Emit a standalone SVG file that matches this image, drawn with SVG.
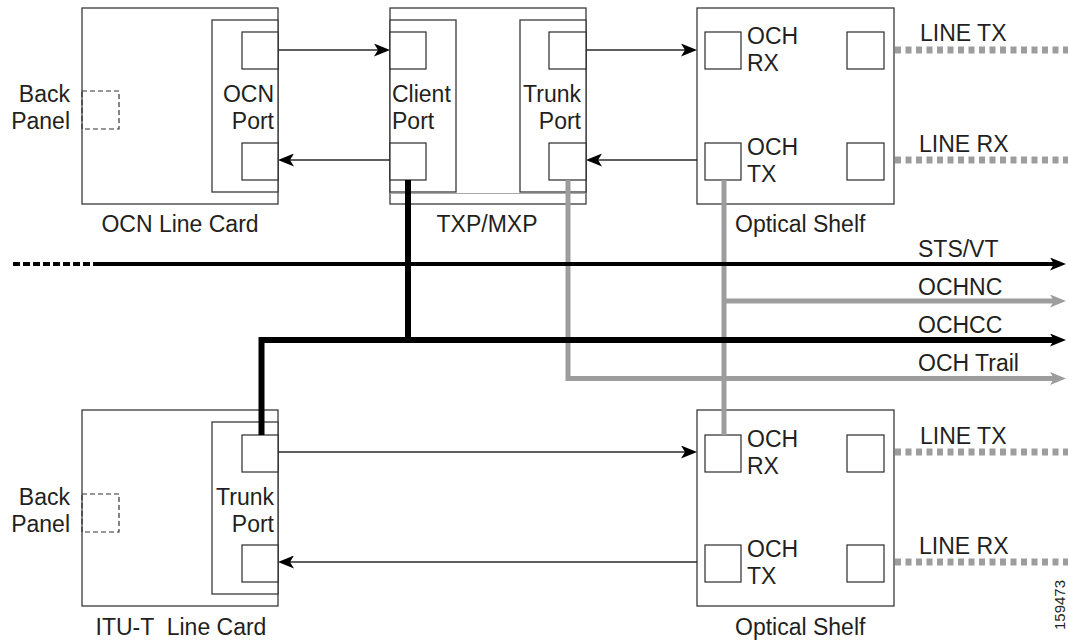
<svg xmlns="http://www.w3.org/2000/svg" width="1068" height="640" viewBox="0 0 1068 640">
<style>
.box{fill:#fff;stroke:#3a3a3a;stroke-width:1.3}
.port{fill:#fff;stroke:#2a2a2a;stroke-width:1.2}
.bp{fill:none;stroke:#333;stroke-width:1.2;stroke-dasharray:5 3}
.t{font-family:"Liberation Sans",Arial,sans-serif;font-size:23px;fill:#231f20}
.s{font-family:"Liberation Sans",Arial,sans-serif;font-size:15px;fill:#231f20}
.thin{stroke:#2a2a2a;stroke-width:1.3;fill:none}
.gray{stroke:#9d9d9d;stroke-width:5;fill:none}
.blk{stroke:#000;stroke-width:6;fill:none;stroke-linejoin:miter}
.blk4{stroke:#000;stroke-width:4;fill:none}
.fiber{stroke:#9d9d9d;stroke-width:7;stroke-dasharray:6 4.5;fill:none}
</style>
<defs>
<marker id="ah" markerUnits="userSpaceOnUse" markerWidth="16" markerHeight="13" refX="4" refY="6.5" orient="auto" viewBox="0 0 16 13"><path d="M0,0 L16,6.5 L0,13 L4,6.5 Z" fill="#000"/></marker>
<marker id="ahg" markerUnits="userSpaceOnUse" markerWidth="16" markerHeight="13" refX="4" refY="6.5" orient="auto" viewBox="0 0 16 13"><path d="M0,0 L16,6.5 L0,13 L4,6.5 Z" fill="#9d9d9d"/></marker>
</defs>

<g id="ocn-line-card">
<rect class="box" x="82" y="8" width="196" height="196"/>
<rect class="box" x="212" y="20" width="66" height="172"/>
<rect class="port" x="242" y="32" width="36" height="37"/>
<rect class="port" x="242" y="143" width="36" height="37"/>
<rect class="bp" x="82" y="91" width="37" height="38"/>
<text class="t" x="70" y="102" text-anchor="end">Back</text>
<text class="t" x="70" y="129" text-anchor="end">Panel</text>
<text class="t" x="274" y="102" text-anchor="end">OCN</text>
<text class="t" x="274" y="129" text-anchor="end">Port</text>
<text class="t" x="180" y="232" text-anchor="middle">OCN Line Card</text>
</g>

<g id="txp-mxp">
<rect class="box" x="390" y="8" width="196" height="196"/>
<line x1="390" y1="193.5" x2="586" y2="193.5" stroke="#aaa" stroke-width="1"/>
<rect class="box" x="390" y="20" width="66" height="172"/>
<rect class="box" x="520" y="20" width="66" height="172"/>
<rect class="port" x="390" y="32" width="36" height="37"/>
<rect class="port" x="390" y="143" width="36" height="37"/>
<rect class="port" x="549" y="32" width="37" height="37"/>
<rect class="port" x="549" y="143" width="37" height="37"/>
<text class="t" x="392" y="102">Client</text>
<text class="t" x="392" y="129">Port</text>
<text class="t" x="581" y="102" text-anchor="end">Trunk</text>
<text class="t" x="581" y="129" text-anchor="end">Port</text>
<text class="t" x="487" y="232" text-anchor="middle">TXP/MXP</text>
</g>

<g id="optical-shelf-top">
<rect class="box" x="697" y="8" width="197" height="196"/>
<rect class="port" x="705" y="32" width="36" height="37"/>
<rect class="port" x="847" y="32" width="37" height="37"/>
<rect class="port" x="705" y="143" width="36" height="37"/>
<rect class="port" x="847" y="143" width="37" height="37"/>
<text class="t" x="747" y="44">OCH</text>
<text class="t" x="747" y="71">RX</text>
<text class="t" x="747" y="155">OCH</text>
<text class="t" x="747" y="182">TX</text>
<text class="t" x="735" y="232">Optical Shelf</text>
</g>

<g id="itu-t-line-card">
<rect class="box" x="82" y="410" width="196" height="196"/>
<rect class="box" x="212" y="422" width="66" height="172"/>
<rect class="port" x="242" y="435" width="36" height="37"/>
<rect class="port" x="242" y="545" width="36" height="37"/>
<rect class="bp" x="82" y="494" width="37" height="38"/>
<text class="t" x="70" y="505" text-anchor="end">Back</text>
<text class="t" x="70" y="532" text-anchor="end">Panel</text>
<text class="t" x="274" y="505" text-anchor="end">Trunk</text>
<text class="t" x="274" y="532" text-anchor="end">Port</text>
<text class="t" x="181" y="635" text-anchor="middle" style="white-space:pre">ITU-T  Line Card</text>
</g>

<g id="optical-shelf-bottom">
<rect class="box" x="697" y="410" width="197" height="196"/>
<rect class="port" x="705" y="435" width="36" height="37"/>
<rect class="port" x="847" y="435" width="37" height="37"/>
<rect class="port" x="705" y="545" width="36" height="37"/>
<rect class="port" x="847" y="545" width="37" height="37"/>
<text class="t" x="747" y="447">OCH</text>
<text class="t" x="747" y="474">RX</text>
<text class="t" x="747" y="557">OCH</text>
<text class="t" x="747" y="584">TX</text>
<text class="t" x="735" y="635">Optical Shelf</text>
</g>

<g id="connectors">
<line class="thin" x1="278" y1="50" x2="378" y2="50" marker-end="url(#ah)"/>
<line class="thin" x1="390" y1="160" x2="290" y2="160" marker-end="url(#ah)"/>
<line class="thin" x1="586" y1="50" x2="685" y2="50" marker-end="url(#ah)"/>
<line class="thin" x1="697" y1="160" x2="598" y2="160" marker-end="url(#ah)"/>
<line class="thin" x1="278" y1="452" x2="685" y2="452" marker-end="url(#ah)"/>
<line class="thin" x1="697" y1="562" x2="290" y2="562" marker-end="url(#ah)"/>

<line class="fiber" x1="895" y1="50" x2="1068" y2="50"/>
<line class="fiber" x1="895" y1="160" x2="1068" y2="160"/>
<line class="fiber" x1="895" y1="452" x2="1068" y2="452"/>
<line class="fiber" x1="895" y1="562" x2="1068" y2="562"/>

<path class="gray" d="M724,180 V435"/>
<path class="gray" d="M724,301 H1054" marker-end="url(#ahg)"/>
<path class="gray" d="M568,180 V378.5 H1054" marker-end="url(#ahg)"/>

<line class="blk4" x1="13" y1="264" x2="100" y2="264" stroke-dasharray="7 3"/>
<path class="blk4" d="M99,264 H1054" marker-end="url(#ah)"/>
<path class="blk" d="M408,180 V340"/>
<path class="blk" d="M261.5,435 V340 H1054" marker-end="url(#ah)"/>

<text class="t" x="918" y="257">STS/VT</text>
<text class="t" x="918" y="295">OCHNC</text>
<text class="t" x="918" y="333">OCHCC</text>
<text class="t" x="918" y="371">OCH Trail</text>
<text class="t" x="920" y="41">LINE TX</text>
<text class="t" x="919" y="152">LINE RX</text>
<text class="t" x="920" y="444">LINE TX</text>
<text class="t" x="919" y="554">LINE RX</text>
</g>

<text class="s" transform="translate(1065,630) rotate(-90)">159473</text>
</svg>
